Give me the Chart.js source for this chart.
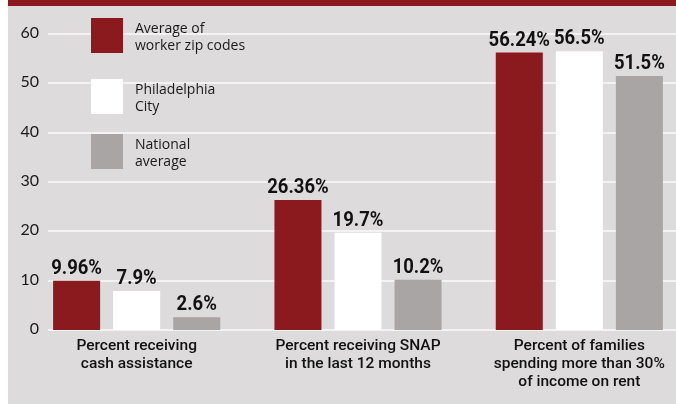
<!DOCTYPE html>
<html>
<head>
<meta charset="utf-8">
<script src="https://cdn.jsdelivr.net/npm/chart.js@4.4.1/dist/chart.umd.min.js"></script>
<style>
  html, body { margin: 0; padding: 0; width: 676px; height: 404px; overflow: hidden; background: #fff; }
  #wrap { position: absolute; left: 0; top: 0; width: 690px; height: 404px; }
</style>
</head>
<body>
<div id="wrap"><canvas id="c" width="690" height="404"></canvas></div>
<script>
// Category labels (one line per array entry)
const categories = [
  ["Percent receiving", "cash assistance"],
  ["Percent receiving SNAP", "in the last 12 months"],
  ["Percent of families", "spending more than 30%", "of income on rent"]
];
// Series names, split into legend lines
const seriesNames = [
  ["Average of", "worker zip codes"],
  ["Philadelphia", "City"],
  ["National", "average"]
];
// Values, in percent
const workerZipAverage = [9.96, 26.36, 56.24];
const philadelphiaCity = [7.9, 19.7, 56.5];
const nationalAverage = [2.6, 10.2, 51.5];
// Value axis ticks
const yTicks = [0, 10, 20, 30, 40, 50, 60];

const RED = '#8b1a1f';
const WHITE = '#ffffff';
const GREY = '#aaa5a5';

// Panel background: white margin on the left, grey panel, dark red top band
const panelBackground = {
  id: 'panelBackground',
  beforeDraw(chart) {
    const { ctx, width, height } = chart;
    ctx.save();
    ctx.fillStyle = '#ffffff';
    ctx.fillRect(0, 0, width, height);
    ctx.fillStyle = '#dddbdc';
    ctx.fillRect(8, 0, width - 8, height);
    ctx.fillStyle = RED;
    ctx.fillRect(8, 0, width - 8, 6);
    ctx.restore();
  }
};

// Horizontal rules and their numbers for each value tick
const valueRules = {
  id: 'valueRules',
  beforeDatasetsDraw(chart, args, opts) {
    const { ctx, width } = chart;
    const y = chart.scales.y;
    ctx.save();
    ctx.strokeStyle = '#f4f3f3';
    ctx.lineWidth = 2;
    ctx.font = opts.font;
    ctx.fillStyle = '#1a1a1a';
    ctx.textAlign = 'right';
    ctx.textBaseline = 'alphabetic';
    y.ticks.forEach(t => {
      const py = Math.round(y.getPixelForValue(t.value));
      ctx.beginPath();
      ctx.moveTo(48, py);
      ctx.lineTo(width, py);
      ctx.stroke();
      ctx.fillText(String(t.value), 39, py + 4);
    });
    ctx.restore();
  }
};

// Legend drawn inside the plot: colour block plus two-line name
const blockLegend = {
  id: 'blockLegend',
  afterDatasetsDraw(chart, args, opts) {
    const { ctx } = chart;
    ctx.save();
    chart.data.datasets.forEach((ds, i) => {
      const top = opts.tops[i];
      ctx.fillStyle = ds.backgroundColor;
      ctx.fillRect(opts.x, top, opts.w, opts.h);
      ctx.fillStyle = '#1a1a1a';
      ctx.font = opts.font;
      ctx.textAlign = 'left';
      ctx.textBaseline = 'alphabetic';
      ds.label.forEach((line, j) => {
        ctx.fillText(line, opts.textX, top + opts.firstBaseline + j * opts.lineGap);
      });
    });
    ctx.restore();
  }
};

// Value labels above each bar, in a condensed heavy face
const barValues = {
  id: 'barValues',
  afterDatasetsDraw(chart, args, opts) {
    const { ctx } = chart;
    chart.data.datasets.forEach((ds, i) => {
      chart.getDatasetMeta(i).data.forEach((bar, j) => {
        ctx.save();
        ctx.translate(bar.x, bar.y - opts.gap);
        ctx.scale(opts.squeeze, 1);
        ctx.font = opts.font;
        ctx.fillStyle = '#111111';
        ctx.textAlign = 'center';
        ctx.textBaseline = 'alphabetic';
        ctx.fillText(String(ds.data[j]) + '%', 0, 0);
        ctx.restore();
      });
    });
  }
};

new Chart(document.getElementById('c'), {
  type: 'bar',
  data: {
    labels: categories,
    datasets: [
      { label: seriesNames[0], data: workerZipAverage, backgroundColor: RED },
      { label: seriesNames[1], data: philadelphiaCity, backgroundColor: WHITE },
      { label: seriesNames[2], data: nationalAverage, backgroundColor: GREY }
    ]
  },
  options: {
    responsive: false,
    animation: false,
    devicePixelRatio: 1,
    layout: { padding: { left: 0, right: 0, top: 34, bottom: 0 } },
    datasets: { bar: { categoryPercentage: 0.814, barPercentage: 0.783 } },
    plugins: {
      legend: { display: false },
      tooltip: { enabled: false },
      valueRules: { font: '16px Lato' },
      blockLegend: {
        x: 91, w: 32, h: 35, tops: [18, 79, 134],
        textX: 135, firstBaseline: 15, lineGap: 17,
        font: '14px "Open Sans"'
      },
      barValues: { gap: 7, squeeze: 0.88, font: 'bold 21px Roboto' }
    },
    scales: {
      x: {
        grid: { display: false, drawTicks: false },
        border: { display: false },
        ticks: {
          padding: 7,
          color: '#111111',
          maxRotation: 0,
          autoSkip: false,
          font: { family: 'Roboto', size: 15.5, weight: '500', lineHeight: 1.16 }
        },
        afterFit(s) { s.height = 74; }
      },
      y: {
        min: 0,
        max: 60,
        grid: { display: false, drawTicks: false },
        border: { display: false },
        ticks: { display: false },
        afterBuildTicks(s) { s.ticks = yTicks.map(v => ({ value: v })); },
        afterFit(s) { s.width = 26; }
      }
    }
  },
  plugins: [panelBackground, valueRules, blockLegend, barValues]
});
</script>
</body>
</html>
